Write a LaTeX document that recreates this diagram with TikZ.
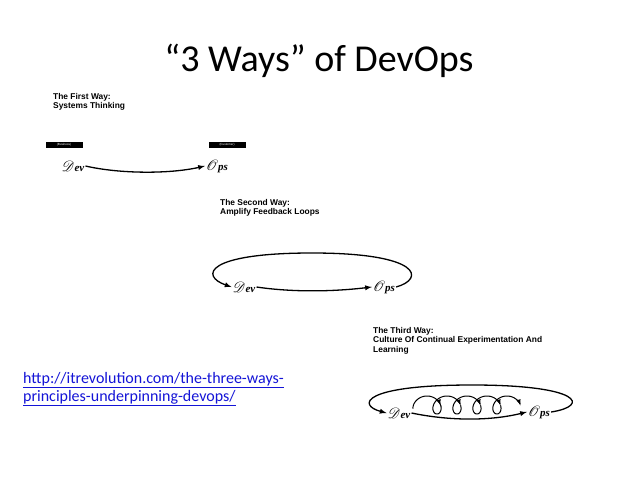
\documentclass[tikz,border=0pt]{standalone}
\usepackage{fontspec}
\usepackage{mathrsfs}
\setmainfont{Carlito}
\newfontfamily\labelfont{Liberation Sans}
\newfontfamily\stagefont{Liberation Serif}
\definecolor{linkblue}{RGB}{20,20,215}
\newcommand{\bigscr}[1]{\scalebox{1.35}{$\mathscr{#1}$}}
\tikzset{
  wayhead/.style={anchor=north west, align=left, inner sep=0pt,
    font=\labelfont\bfseries\fontsize{8.4}{9.6}\selectfont},
  tag/.style={fill=black, text=white, inner sep=0pt,
    minimum width=37pt, minimum height=6pt,
    font=\labelfont\fontsize{3}{3}\selectfont},
  stage/.style={inner sep=1pt, font=\stagefont\bfseries\itshape\fontsize{11}{11}\selectfont},
  flow/.style={-latex, line width=1.3pt},
  curl/.style={-latex, line width=1pt},
}
\begin{document}
\begin{tikzpicture}[x=1pt,y=-1pt]
  \fill[white] (0,0) rectangle (638,479);
  \useasboundingbox (0,0) rectangle (638,479);

  \node (title) at (319,61) {\fontsize{38}{38}\selectfont “3 Ways” of DevOps};

  % first way
  \node[wayhead] (head1) at (53,93) {The First Way:\\Systems Thinking};
  \node[tag] (business) at (64,145) {(Business)};
  \node[tag] (customer) at (227,145) {(Customer)};
  \node[stage] (dev1) at (73,166) {\bigscr{D}ev};
  \node[stage] (ops1) at (217,166) {\bigscr{O}ps};
  \draw[flow] (dev1.east) .. controls (120,174) and (170,174) .. (ops1.west);

  % second way
  \node[wayhead] (head2) at (220,199) {The Second Way:\\Amplify Feedback Loops};
  \node[stage] (dev2) at (244,287) {\bigscr{D}ev};
  \node[stage] (ops2) at (384,287) {\bigscr{O}ps};
  \draw[flow] (dev2.east) .. controls (290,292) and (330,292) .. (ops2.west);
  \draw[flow] (ops2.east) .. controls (425,279) and (422,253) .. (312,253)
    .. controls (205,253) and (200,276) .. (dev2.west);

  % third way
  \node[wayhead] (head3) at (373,327) {The Third Way:\\Culture Of Continual Experimentation And\\Learning};
  \node[stage] (dev3) at (399,413) {\bigscr{D}ev};
  \node[stage] (ops3) at (539,412) {\bigscr{O}ps};
  \draw[flow] (dev3.east) .. controls (450,421) and (490,421) .. (ops3.west);
  \draw[flow] (ops3.east) .. controls (590,406) and (582,385) .. (472,385)
    .. controls (362,385) and (357,405) .. (dev3.west);
  \draw[curl] plot[domain=-2:1.6, samples=30, smooth]
    ({427+3.18*\x+8.5*sin(\x r)}, {405-9*cos(\x r)});
  \foreach \k [evaluate=\k as \ta using 1.6+6.2832*\k,
               evaluate=\k as \tb using 7.8832+6.2832*\k] in {0,...,3}
    \draw[curl] plot[domain=\ta:\tb, samples=40, smooth]
      ({427+3.18*\x+8.5*sin(\x r)}, {405-9*cos(\x r)});

  % source
  \node[anchor=west, align=left, text=linkblue, inner sep=0pt,
    font=\fontsize{16}{18}\selectfont] (link) at (23,389)
    {\underline{http://itrevolution.com/the-three-ways-}\\
     \underline{principles-underpinning-devops/}};
\end{tikzpicture}
\end{document}
